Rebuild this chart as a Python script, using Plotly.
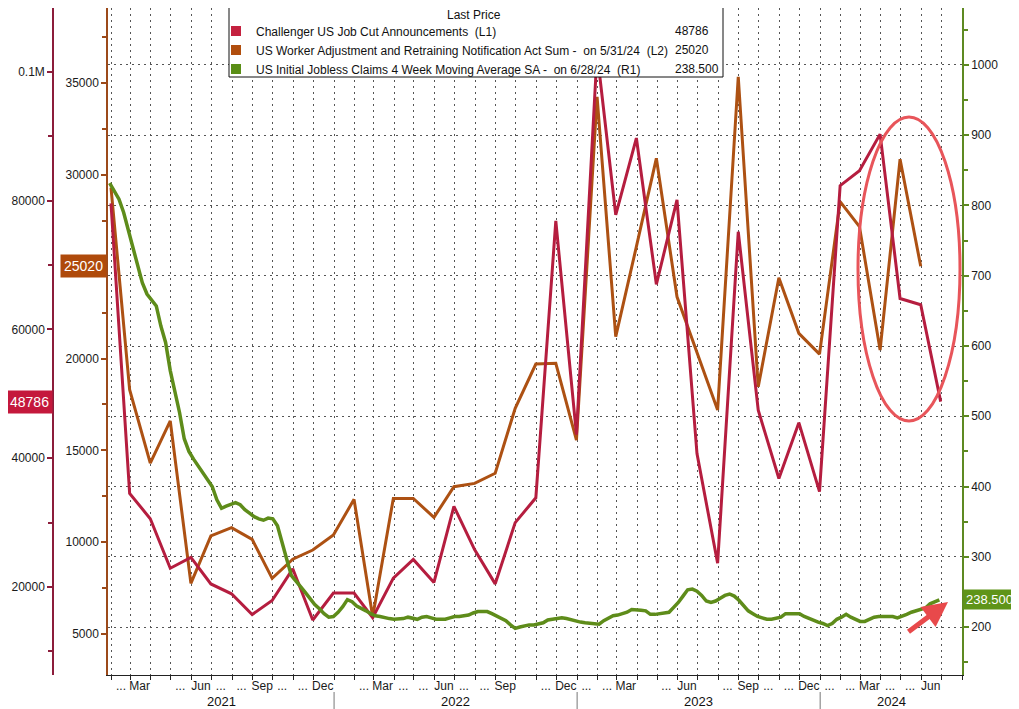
import pandas as pd
import plotly.graph_objects as go

# L1 - Challenger US job cut announcements, monthly, Jan 2021 .. Jun 2024
job_cuts = [79552, 34531, 30603, 22913, 24586, 20476, 18942, 15723, 17895, 22822, 14875, 19052,
            19064, 15245, 21387, 24286, 20712, 32517, 25810, 20485, 29989, 33843, 76835, 43651,
            102943, 77770, 89703, 66995, 80089, 40709, 23697, 75151, 47457, 36836, 45510, 34817,
            82307, 84638, 90309, 64789, 63816, 48786]

# L2 - WARN act notices sum, monthly, Jan 2021 .. May 2024
warn_sum = [29300, 18300, 14300, 16600, 7760, 10340, 10790, 10150, 8030, 9070, 9570, 10390,
            12330, 5940, 12380, 12380, 11350, 13020, 13200, 13750, 17290, 19700, 19740, 15560,
            34250, 21190, 26090, 30900, 23360, 20370, 17200, 35340, 18460, 24400, 21370, 20240,
            28540, 27180, 20460, 30850, 25020]

# R1 - initial jobless claims 4wk avg (thousands), weekly, 29 Jan 2021 .. 28 Jun 2024
claims_4wk = [832, 820, 809, 790, 765, 742, 717, 690, 674, 665,
              657, 628, 605, 565, 536, 505, 468, 450, 439, 429,
              421, 410, 400, 381, 369, 372, 375, 377, 374, 367,
              362, 357, 354, 352, 355, 354, 344, 322, 296, 273,
              264, 257, 249, 240, 232, 226, 219, 214, 215, 221,
              229, 239, 236, 230, 227, 223, 219, 216, 215, 213,
              212, 211, 211, 212, 214, 213, 211, 214, 215, 213,
              211, 211, 211, 213, 215, 215, 216, 217, 220, 222,
              222, 222, 219, 216, 213, 209, 203, 198, 200, 202,
              203, 203, 204, 206, 210, 211, 212, 213, 212, 210,
              208, 207, 206, 205, 205, 204, 209, 213, 216, 217,
              219, 221, 225, 225, 224, 223, 218, 218, 219, 219,
              221, 228, 235, 244, 253, 254, 251, 245, 237, 235,
              237, 241, 245, 247, 244, 238, 231, 223, 219, 215,
              213, 211, 211, 212, 214, 219, 219, 219, 219, 215,
              212, 209, 207, 205, 202, 205, 211, 214, 218, 214,
              211, 208, 208, 211, 214, 215, 215, 215, 215, 213,
              215, 218, 221, 223, 224, 227, 233, 236, 238.5]

# month labels Feb 2021 .. Jun 2024 (bloomberg style, skipped ones blank)
month_labels = ["...", "Mar", "", "...", "Jun", "...", "...", "Sep", "...", "...", "Dec",
                "", "...", "Mar", "...", "...", "Jun", "...", "...", "Sep", "", "...", "Dec",
                "...", "...", "Mar", "", "...", "Jun", "", "...", "Sep", "...", "...", "Dec",
                "...", "...", "Mar", "...", "...", "Jun"]
years = [2021, 2022, 2023, 2024]

names = ["Challenger US Job Cut Announcements  (L1)",
         "US Worker Adjustment and Retraining Notification Act Sum -  on 5/31/24  (L2)",
         "US Initial Jobless Claims 4 Week Moving Average SA -  on 6/28/24  (R1)"]
last_vals = ["48786", "25020", "238.500"]

RED, BROWN, GREEN = "#B51D3F", "#AD5113", "#5E8C1A"
# the page body has an 8px margin, so the figure is drawn 8px smaller and
# every layout position below is given in screen pixels and shifted back
OFF = 8
W, H, B = 1019 - OFF, 709 - OFF, 34
PH = H - B
FONT = "Liberation Sans, Arial, sans-serif"


def fx(px):
    return (px - OFF) / W


def fy(px):
    return (PH - (px - OFF)) / PH


m_dates = pd.date_range("2021-01-31", periods=len(job_cuts), freq=pd.offsets.MonthEnd())
w_dates = pd.date_range(end="2024-06-28", periods=len(claims_4wk), freq="7D")
lbl_dates = pd.date_range("2021-02-01", periods=len(month_labels), freq=pd.offsets.MonthBegin()) + pd.Timedelta(days=14)
x_range = [pd.Timestamp("2021-01-26 12:00"), pd.Timestamp("2024-08-01")]

fig = go.Figure()
fig.add_trace(go.Scatter(x=w_dates, y=claims_4wk, yaxis="y3", mode="lines",
                         line=dict(color=GREEN, width=3.5), showlegend=False))
fig.add_trace(go.Scatter(x=m_dates[:len(warn_sum)], y=warn_sum, yaxis="y", mode="lines",
                         line=dict(color=BROWN, width=3), showlegend=False))
fig.add_trace(go.Scatter(x=m_dates, y=job_cuts, yaxis="y2", mode="lines",
                         line=dict(color=RED, width=3), showlegend=False))

# legend entries with square swatches
for nm, col, ax in zip(names, ["#C4213F", "#B14E0D", "#5A8E16"], ["y2", "y", "y3"]):
    fig.add_trace(go.Scatter(x=[None], y=[None], yaxis=ax, mode="markers", name=nm,
                             marker=dict(symbol="square", size=10, color=col)))

ann = [dict(xref="paper", yref="paper", x=fx(474), y=fy(15), text="Last Price", showarrow=False,
            yanchor="middle", font=dict(size=12, color="#111", family=FONT))]
# values column in the legend box
for i, v in enumerate(last_vals):
    ann.append(dict(xref="paper", yref="paper", x=fx(673), y=fy(31 + 19 * i),
                    text=v, showarrow=False, xanchor="left", yanchor="middle",
                    font=dict(size=12, color="#111", family=FONT)))

# year labels under the month labels
for yr in years:
    a = max(pd.Timestamp(f"{yr}-01-01"), x_range[0])
    b = min(pd.Timestamp(f"{yr + 1}-01-01"), x_range[1])
    ann.append(dict(xref="x", yref="paper", x=a + (b - a) / 2, y=fy(701), text=str(yr),
                    showarrow=False, yanchor="middle", font=dict(size=13, color="#111", family=FONT)))

# last value tags on the axes
ann.append(dict(xref="paper", yref="y2", x=fx(53), y=job_cuts[-1], xanchor="right", text=last_vals[0],
                showarrow=False, bgcolor="#C4183C", borderpad=3, font=dict(size=14, color="white", family=FONT)))
ann.append(dict(xref="paper", yref="y", x=fx(107), y=warn_sum[-1], xanchor="right", text=last_vals[1],
                showarrow=False, bgcolor="#AF4A0B", borderpad=3, font=dict(size=14, color="white", family=FONT)))
ann.append(dict(xref="paper", yref="y3", x=fx(963), y=claims_4wk[-1], xanchor="left", text=last_vals[2],
                showarrow=False, bgcolor="#5F9419", borderpad=2, font=dict(size=13, color="white", family=FONT)))

# red arrow pointing at the latest claims print
ann.append(dict(xref="paper", yref="paper", x=fx(948), y=fy(602), ax=-41, ay=31,
                showarrow=True, arrowhead=2, arrowsize=1, arrowwidth=5, arrowcolor="#E8494B", text=""))

shapes = []
for yr in years[1:]:
    shapes.append(dict(type="line", xref="x", yref="paper", x0=f"{yr}-01-01", x1=f"{yr}-01-01",
                       y0=fy(692), y1=fy(712), line=dict(color="#777", width=1)))
# legend box
shapes.append(dict(type="rect", xref="paper", yref="paper", x0=fx(229), x1=fx(723), y0=fy(77), y1=fy(-3),
                   fillcolor="white", line=dict(color="#111", width=1), layer="above"))
# highlight ellipse
shapes.append(dict(type="circle", xref="paper", yref="paper", x0=fx(858), x1=fx(960),
                   y0=fy(421), y1=fy(117), line=dict(color="#E8555A", width=3)))

tickfont = dict(size=12, color="#1a1a1a", family=FONT)
brown_ticks = list(range(5000, 40000, 5000))
fig.update_layout(
    width=W, height=H, template="none",
    margin=dict(l=0, r=0, t=0, b=B),
    paper_bgcolor="white", plot_bgcolor="white",
    font=dict(family=FONT, color="#111"),
    xaxis=dict(type="date", domain=[fx(108), fx(962)], range=x_range, anchor="y",
               tickmode="array", tickvals=lbl_dates, ticktext=month_labels, ticks="",
               showgrid=False, zeroline=False, showline=True, linecolor="#222", linewidth=1,
               tickfont=tickfont,
               minor=dict(dtick="M1", tick0="2021-01-01", ticks="outside", ticklen=4,
                          tickcolor="#222", showgrid=True, gridcolor="#555",
                          griddash="2px,4px", gridwidth=1)),
    yaxis=dict(range=[2768, 39083], tickvals=brown_ticks,
               ticktext=["" if t == 25000 else str(t) for t in brown_ticks], side="left",
               showline=True, linecolor="#9C4A1A", linewidth=1.5, ticks="outside", ticklen=5,
               tickwidth=2, tickcolor="#9C4A1A", showgrid=False, zeroline=False, tickfont=tickfont,
               minor=dict(dtick=2500, ticks="outside", ticklen=4, tickcolor="#9C4A1A")),
    yaxis2=dict(range=[6337, 109890], tickvals=[20000, 40000, 60000, 80000, 100000],
                ticktext=["20000", "40000", "60000", "80000", "0.1M"],
                anchor="free", position=fx(53), overlaying="y", side="left",
                showline=True, linecolor="#8C1D3B", linewidth=1.5, ticks="outside", ticklen=5,
                tickwidth=2, tickcolor="#8C1D3B", showgrid=False, zeroline=False, tickfont=tickfont,
                minor=dict(dtick=10000, ticks="outside", ticklen=4, tickcolor="#8C1D3B")),
    yaxis3=dict(range=[131.7, 1081.1], dtick=100, tick0=0, overlaying="y", side="right", anchor="x",
                showline=True, linecolor="#5E8A22", linewidth=1.5, ticks="outside", ticklen=5,
                tickwidth=2, tickcolor="#5E8A22", showgrid=True, gridcolor="#555",
                griddash="2px,4px", gridwidth=1, zeroline=False, tickfont=tickfont,
                minor=dict(dtick=50, ticks="outside", ticklen=4, tickcolor="#5E8A22")),
    legend=dict(x=fx(216), y=fy(16.5), xanchor="left", yanchor="top",
                bgcolor="rgba(0,0,0,0)", borderwidth=0,
                font=dict(size=12, color="#111", family=FONT)),
    annotations=ann, shapes=shapes,
)

fig.write_html("out.html")
